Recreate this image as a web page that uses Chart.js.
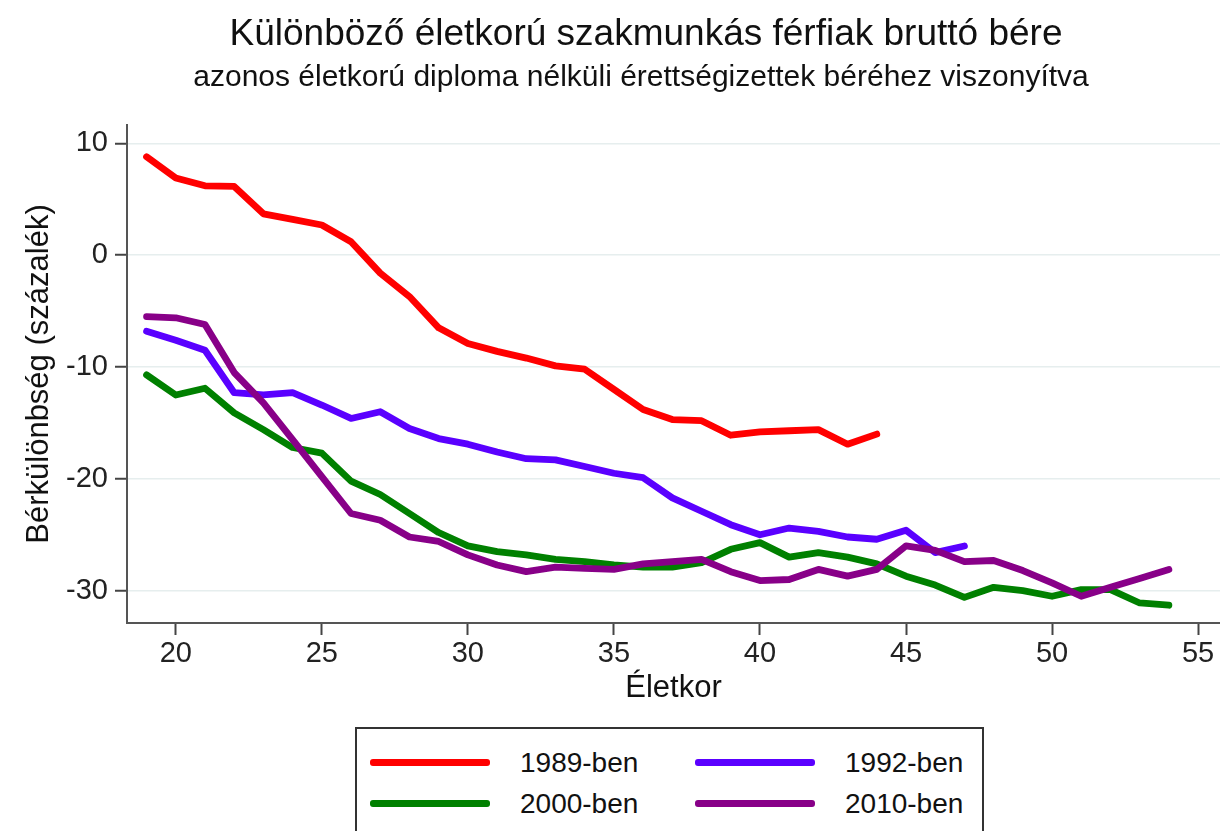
<!DOCTYPE html>
<html lang="hu">
<head>
<meta charset="utf-8">
<title>Szakmunkás férfiak bruttó bére</title>
<script src="https://cdn.jsdelivr.net/npm/chart.js@4.4.1/dist/chart.umd.min.js"></script>
<style>
  html, body { margin: 0; padding: 0; background: #fff; overflow: hidden; }
  #wrap { position: relative; width: 1220px; height: 831px; overflow: hidden; }
  #chartBox { position: absolute; left: 0; top: 0; width: 1220px; height: 720px; }
  #legend {
    position: absolute; left: 355px; top: 727px; width: 629px; height: 120px;
    border: 2px solid #333; background: #fff;
    font-family: "Liberation Sans", Arial, sans-serif; font-size: 28px; color: #111;
    display: grid; grid-template-columns: 325px 300px; grid-auto-rows: 41px;
    padding: 13px 0 0 13px; box-sizing: border-box;
  }
  .item { display: flex; align-items: center; }
  .swatch { width: 120px; height: 7px; margin-right: 30px; border-radius: 3px; }
</style>
</head>
<body>
<div id="wrap">
  <div id="chartBox"><canvas id="chart"></canvas></div>
  <div id="legend"></div>
</div>
<script>
const titleText = 'Különböző életkorú szakmunkás férfiak bruttó bére';
const subtitleText = 'azonos életkorú diploma nélküli érettségizettek béréhez viszonyítva';

// életkor 19-től
const ages = [19, 20, 21, 22, 23, 24, 25, 26, 27, 28, 29, 30, 31, 32, 33, 34, 35, 36,
  37, 38, 39, 40, 41, 42, 43, 44, 45, 46, 47, 48, 49, 50, 51, 52, 53, 54];

const seriesNames = ['1989-ben', '1992-ben', '2000-ben', '2010-ben'];
const seriesColors = ['#ff0000', '#5a00ff', '#008000', '#880088'];

const wage1989 = [8.8, 6.9, 6.2, 6.15, 3.7, 3.2, 2.7, 1.2, -1.6, -3.7, -6.5, -7.9, -8.6,
  -9.2, -9.9, -10.2, -12.0, -13.8, -14.7, -14.8, -16.1, -15.8, -15.7, -15.6, -16.9, -16.0];
const wage1992 = [-6.8, -7.6, -8.5, -12.3, -12.5, -12.3, -13.4, -14.6, -14.0, -15.5, -16.4,
  -16.9, -17.6, -18.2, -18.3, -18.9, -19.5, -19.9, -21.7, -22.9, -24.1, -25.0, -24.4, -24.7,
  -25.2, -25.4, -24.6, -26.6, -26.0];
const wage2000 = [-10.7, -12.5, -11.9, -14.1, -15.6, -17.2, -17.7, -20.2, -21.4, -23.1, -24.8,
  -26.0, -26.5, -26.8, -27.2, -27.4, -27.7, -27.9, -27.9, -27.5, -26.3, -25.7, -27.0, -26.6,
  -27.0, -27.6, -28.7, -29.5, -30.6, -29.7, -30.0, -30.5, -29.9, -29.9, -31.1, -31.3];
const wage2010 = [-5.5, -5.6, -6.2, -10.5, -13.2, -16.5, -19.8, -23.1, -23.7, -25.2, -25.6,
  -26.8, -27.7, -28.3, -27.9, -28.0, -28.1, -27.6, -27.4, -27.2, -28.3, -29.1, -29.0, -28.1,
  -28.7, -28.1, -26.0, -26.4, -27.4, -27.3, -28.2, -29.3, -30.5, -29.7, -28.9, -28.1];

const xTicks = [20, 25, 30, 35, 40, 45, 50, 55];
const yTicks = [-30, -20, -10, 0, 10];

const FONT = '"Liberation Sans", Arial, sans-serif';
const allSeries = [wage1989, wage1992, wage2000, wage2010];

const datasets = allSeries.map((vals, i) => ({
  label: seriesNames[i],
  data: vals.map((v, j) => ({ x: ages[j], y: v })),
  borderColor: seriesColors[i],
  backgroundColor: seriesColors[i],
  borderWidth: 6.8,
  borderCapStyle: 'round',
  borderJoinStyle: 'round',
  pointRadius: 0,
  tension: 0,
  order: allSeries.length - i  // a későbbi évek kerülnek felülre
}));

// címek a rajz fölött
const titlePlugin = {
  id: 'titles',
  afterDraw(chart) {
    const ctx = chart.ctx;
    ctx.save();
    ctx.fillStyle = '#111';
    ctx.textAlign = 'center';
    ctx.textBaseline = 'alphabetic';
    ctx.font = '37px ' + FONT;
    ctx.fillText(titleText, 646, 45);
    ctx.font = '30px ' + FONT;
    ctx.fillText(subtitleText, 641, 86);
    ctx.restore();
  }
};

new Chart(document.getElementById('chart'), {
  type: 'line',
  data: { datasets },
  plugins: [titlePlugin],
  options: {
    responsive: true,
    maintainAspectRatio: false,
    animation: false,
    layout: { padding: { top: 125, right: 0, left: 0, bottom: 0 } },
    plugins: { legend: { display: false }, tooltip: { enabled: false }, title: { display: false } },
    scales: {
      x: {
        type: 'linear',
        min: 18.33,
        max: 55.75,
        afterBuildTicks: (s) => { s.ticks = xTicks.map(v => ({ value: v })); },
        afterFit: (s) => { s.height = 97; },
        grid: { drawOnChartArea: false, tickLength: 12, tickColor: '#444', tickWidth: 2 },
        border: { color: '#555', width: 2 },
        ticks: { font: { family: FONT, size: 29 }, color: '#222', padding: 2, maxRotation: 0 },
        title: { display: true, text: 'Életkor', font: { family: FONT, size: 31 }, color: '#111',
          padding: { top: 0, bottom: 13 } }
      },
      y: {
        min: -32.89,
        max: 11.64,
        afterBuildTicks: (s) => { s.ticks = yTicks.map(v => ({ value: v })); },
        afterFit: (s) => { s.width = 127; },
        grid: { color: '#e6eeee', lineWidth: 1.5, tickLength: 12, tickColor: '#444', tickWidth: 2 },
        border: { color: '#555', width: 2 },
        ticks: { font: { family: FONT, size: 29 }, color: '#222', padding: 7 },
        title: { display: true, text: 'Bérkülönbség (százalék)', font: { family: FONT, size: 31 },
          color: '#111', padding: { top: 21, bottom: 0 } }
      }
    }
  }
});

// jelmagyarázat két oszlopban
const legendEl = document.getElementById('legend');
seriesNames.forEach((name, i) => {
  const item = document.createElement('div');
  item.className = 'item';
  const sw = document.createElement('span');
  sw.className = 'swatch';
  sw.style.background = seriesColors[i];
  const txt = document.createElement('span');
  txt.textContent = name;
  item.appendChild(sw);
  item.appendChild(txt);
  legendEl.appendChild(item);
});
</script>
</body>
</html>
